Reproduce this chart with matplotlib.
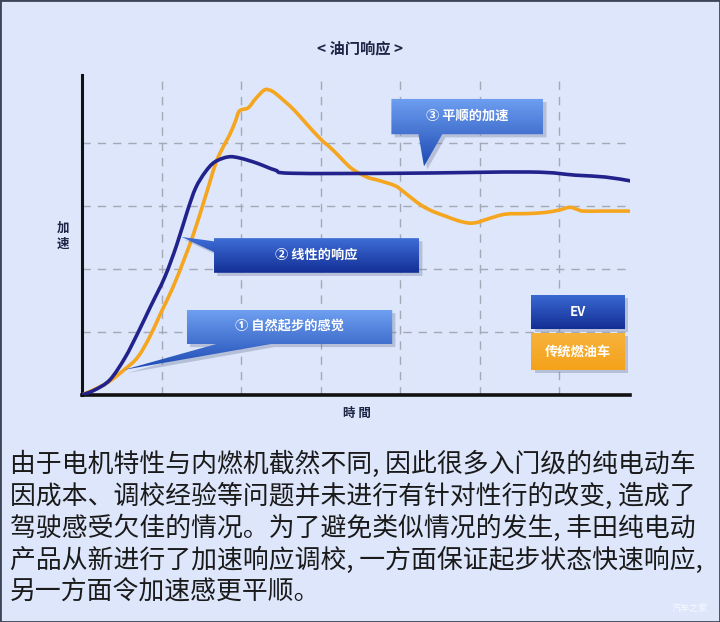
import numpy as np
import matplotlib
matplotlib.use("Agg")
import matplotlib.pyplot as plt
from matplotlib.patches import Polygon, Rectangle, PathPatch
from matplotlib.path import Path

plt.rcParams["font.family"] = ["Noto Sans CJK SC", "DejaVu Sans"]

# ---- data (grid units) ----
ev_x = [0, 0.16, 0.35, 0.54, 0.70, 0.86, 1.04, 1.19, 1.33, 1.43, 1.55, 1.67,
        1.84, 1.99, 2.20, 2.43, 2.64, 4.00, 5.63, 6.20, 6.58, 6.89]
ev_y = [0, 0.08, 0.24, 0.59, 0.98, 1.40, 1.87, 2.38, 2.94, 3.29, 3.54, 3.70,
        3.78, 3.76, 3.68, 3.57, 3.52, 3.52, 3.54, 3.49, 3.46, 3.40]

ice_x = [0, 0.30, 0.53, 0.70, 0.85, 0.99, 1.14, 1.28, 1.40, 1.51, 1.60, 1.69,
         1.78, 1.86, 1.93, 1.98, 2.09, 2.18, 2.29, 2.36, 2.43, 2.55, 2.67,
         2.84, 3.01, 3.12, 3.24, 3.34, 3.42, 3.58, 3.75, 3.94, 4.05, 4.16,
         4.28, 4.42, 4.57, 4.72, 4.86, 4.97, 5.09, 5.32, 5.60, 5.84, 6.01,
         6.13, 6.22, 6.30, 6.55, 6.88]
ice_y = [0, 0.18, 0.40, 0.60, 0.92, 1.30, 1.70, 2.14, 2.55, 2.98, 3.35, 3.71,
         3.95, 4.14, 4.35, 4.51, 4.56, 4.70, 4.84, 4.84, 4.79, 4.66, 4.52,
         4.28, 4.05, 3.93, 3.78, 3.65, 3.57, 3.46, 3.40, 3.32, 3.22, 3.11,
         3.00, 2.91, 2.84, 2.77, 2.73, 2.74, 2.79, 2.87, 2.88, 2.90, 2.94,
         2.98, 2.95, 2.92, 2.92, 2.92]

title = "< 油门响应 >"
ylabel = "加\n速"
xlabel = "時 間"
callouts = ["① 自然起步的感觉", "② 线性的响应", "③ 平顺的加速"]
legend_labels = ["EV", "传统燃油车"]
body_lines = [
    "由于电机特性与内燃机截然不同, 因此很多入门级的纯电动车",
    "因成本、调校经验等问题并未进行有针对性行的改变, 造成了",
    "驾驶感受欠佳的情况。为了避免类似情况的发生, 丰田纯电动",
    "产品从新进行了加速响应调校, 一方面保证起步状态快速响应,",
    "另一方面令加速感更平顺。",
]

BG = "#dde6fa"
EV_C = "#22228c"
ICE_C = "#f5a61e"
TXT = "#1c2545"

W, H = 720, 622
fig = plt.figure(figsize=(W / 100, H / 100), dpi=100, facecolor=BG)

# chart axes, pixel box: x 82..630, y 75..395
ax = fig.add_axes([82 / W, 1 - 395 / H, (630 - 82) / W, (395 - 75) / H])
ax.set_facecolor(BG)
XMAX, YMAX = 6.89, 5.08

for gx in range(1, 7):
    ax.axvline(gx, color="#a3a9b6", lw=1.0, ls=(0, (6, 5)), zorder=1)
for gy in range(1, 5):
    ax.axhline(gy, color="#a3a9b6", lw=1.0, ls=(0, (6, 5)), zorder=1)


def smooth_line(xs, ys, color, z):
    # curved path through the points (Catmull-Rom as cubic Bezier)
    p = np.column_stack([xs, ys])
    verts = [p[0]]
    codes = [Path.MOVETO]
    n = len(p)
    for i in range(n - 1):
        p0 = p[i - 1] if i > 0 else p[i]
        p1, p2 = p[i], p[i + 1]
        p3 = p[i + 2] if i + 2 < n else p[i + 1]
        verts += [p1 + (p2 - p0) / 6, p2 - (p3 - p1) / 6, p2]
        codes += [Path.CURVE4] * 3
    ax.add_patch(PathPatch(Path(verts, codes), facecolor="none",
                           edgecolor=color, lw=2.6, capstyle="round",
                           joinstyle="round", zorder=z))


smooth_line(ice_x, ice_y, ICE_C, 3)
smooth_line(ev_x, ev_y, EV_C, 4)


def grad_shape(verts, top, bottom, z=6):
    verts = np.array(verts)
    sh = Polygon(verts + np.array([0.04, -0.05]), closed=True,
                 facecolor="#6d7896", alpha=0.35, edgecolor="none", zorder=z - 1)
    ax.add_patch(sh)
    poly = Polygon(verts, closed=True, facecolor="none", edgecolor="none", zorder=z)
    ax.add_patch(poly)
    c1 = np.array(matplotlib.colors.to_rgb(top))
    c2 = np.array(matplotlib.colors.to_rgb(bottom))
    t = np.linspace(0, 1, 64)[:, None]
    img = (c1 * (1 - t) + c2 * t)[:, None, :]
    y0, y1 = verts[:, 1].min(), verts[:, 1].max()
    x0, x1 = verts[:, 0].min(), verts[:, 0].max()
    im = ax.imshow(img, extent=[x0, x1, y0, y1], origin="upper",
                   aspect="auto", zorder=z, interpolation="bilinear")
    im.set_clip_path(poly)


# callout 1: box + wedge down to the start of the curves
grad_shape([(1.32, 1.35), (3.90, 1.35), (3.90, 0.81), (2.38, 0.81),
            (0.53, 0.40), (1.69, 0.81), (1.32, 0.81)], "#6e9ff0", "#1d4ab4")
ax.text(2.61, 1.08, callouts[0], color="white", fontsize=9.5, fontweight="bold",
        ha="center", va="center", zorder=8)

# callout 2: wedge from left edge
grad_shape([(1.66, 2.49), (4.24, 2.49), (4.24, 1.94), (1.66, 1.94),
            (1.66, 2.27), (1.25, 2.51), (1.66, 2.44)], "#3f6fd8", "#132f96")
ax.text(2.95, 2.22, callouts[1], color="white", fontsize=9.5, fontweight="bold",
        ha="center", va="center", zorder=8)

# callout 3: wedge down to EV plateau
grad_shape([(3.89, 4.70), (5.80, 4.70), (5.80, 4.14), (4.53, 4.14),
            (4.30, 3.63), (4.23, 4.14), (3.89, 4.14)], "#6e9ff0", "#1d4ab4")
ax.text(4.84, 4.44, callouts[2], color="white", fontsize=9.5, fontweight="bold",
        ha="center", va="center", zorder=8)

# legend boxes
grad_shape([(5.65, 1.59), (6.83, 1.59), (6.83, 1.05), (5.65, 1.05)],
           "#3a6ad4", "#142f94")
ax.text(6.24, 1.32, legend_labels[0], color="white", fontsize=9.5,
        fontweight="bold", ha="center", va="center", zorder=8)
grad_shape([(5.65, 0.98), (6.83, 0.98), (6.83, 0.40), (5.65, 0.40)],
           "#f7b23c", "#f4a21a")
ax.text(6.24, 0.69, legend_labels[1], color="white", fontsize=9.5,
        fontweight="bold", ha="center", va="center", zorder=8)

ax.set_xlim(0, XMAX)
ax.set_ylim(0, YMAX)
ax.set_xticks([])
ax.set_yticks([])
for s in ["top", "right"]:
    ax.spines[s].set_visible(False)
ax.spines["left"].set_linewidth(2.2)
ax.spines["bottom"].set_linewidth(2.6)
ax.spines["left"].set_color("#111111")
ax.spines["bottom"].set_color("#111111")

fig.text(360 / W, 1 - 48 / H, title, fontsize=11, fontweight="bold",
         color=TXT, ha="center", va="center")
fig.text(63 / W, 1 - 236 / H, ylabel, fontsize=9, fontweight="bold",
         color=TXT, ha="center", va="center", linespacing=1.3)
fig.text(357 / W, 1 - 413 / H, xlabel, fontsize=9, fontweight="bold",
         color=TXT, ha="center", va="center")

for i, line in enumerate(body_lines):
    fig.text(10 / W, 1 - (464 + 32 * i) / H, line, fontsize=18.6,
             color="#1a1a1a", ha="left", va="center")

fig.text(690 / W, 1 - 608 / H, "汽车之家", fontsize=6.5, color="white",
         alpha=0.8, ha="center", va="center")

fig.patches.append(Rectangle((0, 0), 1, 1, transform=fig.transFigure,
                             fill=False, edgecolor="#3c4658", lw=2.0))

fig.savefig("out.png", dpi=100, facecolor=BG)
